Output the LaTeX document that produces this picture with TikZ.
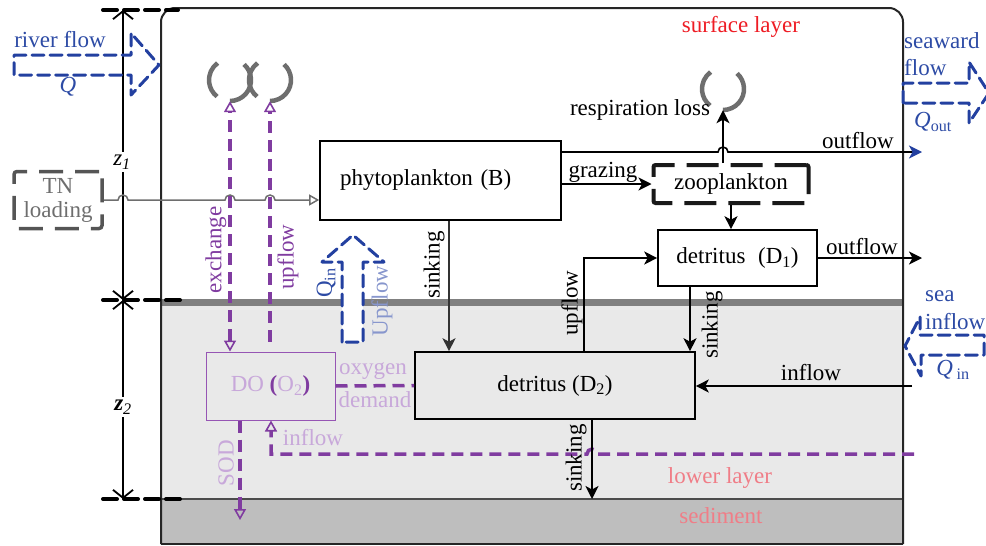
\documentclass[tikz,border=0pt]{standalone}
\usepackage{fontspec}
\setmainfont{Liberation Serif}
\usetikzlibrary{arrows.meta}

\definecolor{flowblue}{RGB}{35,64,160}
\definecolor{textblue}{RGB}{45,75,165}
\definecolor{paleblue}{RGB}{135,150,205}
\definecolor{oxpurple}{RGB}{128,60,160}
\definecolor{palepurple}{RGB}{200,168,218}
\definecolor{boxpurple}{RGB}{150,85,180}
\definecolor{surfred}{RGB}{238,28,36}
\definecolor{palered}{RGB}{240,125,135}
\definecolor{swirlgray}{RGB}{110,110,110}
\definecolor{tngray}{RGB}{85,85,85}
\definecolor{lowfill}{RGB}{233,233,233}
\definecolor{sedfill}{RGB}{190,190,190}
\definecolor{bandgray}{RGB}{128,128,128}

\tikzset{
  oxhead/.tip={Triangle[open,length=11pt,width=12pt,line width=1.6pt]},
  blkhead/.tip={Stealth[length=13pt,width=13pt,inset=3.5pt]},
}

\begin{document}
\begin{tikzpicture}[x=1pt,y=-1pt,
  every node/.style={font=\fontsize{23}{26}\selectfont, inner sep=0pt},
  proc/.style={draw=black, line width=1.6pt, inner sep=0pt},
  flow/.style={line width=1.6pt, -blkhead},
  oxdash/.style={draw=oxpurple, line width=3.5pt, dash pattern=on 12pt off 7pt},
  blockarrow/.style={draw=flowblue, line width=3pt, dash pattern=on 12pt off 6pt, line cap=round, line join=round},
  swirl/.style={draw=swirlgray, line width=4.5pt},
  swirlpt/.style={circle, minimum size=42pt, inner sep=0pt},
  dimline/.style={line width=1.8pt, {Straight Barb[length=8pt,width=20pt]}-{Straight Barb[length=8pt,width=20pt]}},
  extline/.style={line width=4pt, dash pattern=on 14pt off 7pt, line cap=round},
]
\useasboundingbox (0,0) rectangle (986,546);

% layers of the water column
\fill[lowfill] (161,306) rectangle (903,499);
\fill[sedfill] (161,499) rectangle (903,544);
\fill[bandgray] (161,299) rectangle (903,306);
\draw[line width=1.2pt, black!70] (161,499) -- (903,499);
\draw[line width=2pt, black!85, rounded corners=14pt] (161,544) -- (161,8) -- (903,8) -- (903,544);
\draw[line width=2pt, black!85] (161,544) -- (903,544);

% layer depths
\draw[extline] (103,10) -- (178,10);
\draw[extline] (103,300) -- (180,300);
\draw[extline] (103,499) -- (180,499);
\coordinate (ztop) at (123,10);
\coordinate (zmid) at (123,300);
\coordinate (zbot) at (123,499);
\draw[dimline] (zmid) -- (ztop);
\draw[dimline] (zmid) -- (zbot);
\node[fill=white, inner sep=3pt] (z1) at (122,162) {\textit{z}\textsubscript{\textit{1}}};
\node[fill=white, inner sep=3pt] (z2) at (123,407) {\textbf{\textit{z}}\textsubscript{\textit{2}}};

% boundary flows
\draw[blockarrow] (14,55) -- (131,55) -- (131,33) -- (159,65) -- (131,95) -- (131,75) -- (14,75) -- cycle;
\node[text=textblue] at (60,40) {river flow};
\node[text=textblue] at (68,87) {\textit{Q}};

\draw[blockarrow] (903,103) -- (903,83) -- (969,83) -- (969,62) -- (989,93) -- (969,123) -- (969,103) -- cycle;
\node[text=textblue, align=left, anchor=west, font=\fontsize{23}{27}\selectfont] at (904,54) {seaward\\flow};
\node[text=textblue] at (933,122) {\textit{Q}\textsubscript{out}};

\draw[blockarrow] (984,355) -- (984,335) -- (920,335) -- (920,317) -- (905,346) -- (921,376) -- (921,355) -- cycle;
\node[text=textblue, align=left, anchor=west, font=\fontsize{23}{28}\selectfont] at (925,310) {sea\\inflow};
\node[text=textblue] at (953,370) {\textit{Q}\,\textsubscript{in}};

\draw[blockarrow, fill=white] (342,342) -- (342,262) -- (322,262) -- (353,235) -- (384,262) -- (363,262) -- (363,342) -- cycle;
\node[rotate=90, text=textblue] at (326,283) {Q\textsubscript{in}};
\node[rotate=90, text=paleblue] at (382,301) {Upflow};

% state variables
\node[draw=tngray, line width=3.5pt, dash pattern=on 24pt off 12pt, rounded corners=3pt,
      minimum width=88pt, minimum height=57pt, text=swirlgray, align=center,
      font=\fontsize{23}{24}\selectfont] (tn) at (58,200) {TN\\loading};
\node[proc, fill=white, minimum width=241pt, minimum height=79pt, text width=201pt,
      inner xsep=20pt, align=left] (phy) at (440.5,180.5) {phytoplankton (B)};
\node[draw=black!90, line width=4pt, dash pattern=on 32pt off 12pt, rounded corners=2pt,
      minimum width=155pt, minimum height=38pt] (zoo) at (731,184) {zooplankton};
\node[proc, fill=white, minimum width=159pt, minimum height=56pt] (d1) at (737.5,258)
      {detritus\hspace{0.55em}(D\textsubscript{1})};
\node[proc, minimum width=280pt, minimum height=67pt] (d2) at (555,385.5) {detritus (D\textsubscript{2})};
\node[draw=boxpurple, line width=1pt, minimum width=129pt, minimum height=68pt, text=palepurple] (do)
      at (270.5,386) {DO \textcolor{oxpurple}{\textbf{(}}O\textsubscript{2}\textcolor{oxpurple}{\textbf{)}}};

% loss swirls
\node[swirlpt] (sw1) at (230,80) {};
\node[swirlpt] (sw2) at (270,80) {};
\node[swirlpt] (sw3) at (723,89) {};
\foreach \s in {sw1,sw2,sw3}{
  \draw[swirl] (\s.center) ++(-126:21) arc[start angle=-126, end angle=-232, radius=21];
  \draw[swirl] (\s.center) ++(-48:21) arc[start angle=-48, end angle=90, radius=21];
}

% free ends of connectors
\coordinate (out1) at (922,152);
\coordinate (out2) at (922,258);
\coordinate (in2) at (912,386);
\coordinate (oxin) at (914,454);
\coordinate (sed) at (592,499);
\coordinate (sodend) at (240,520);

% nutrient loading
\draw[draw=swirlgray, line width=1.5pt, -{Triangle[open,length=10pt,width=11pt]}]
  (tn.east) -- (118,200) arc[start angle=180, end angle=360, radius=5]
  -- (225,200) arc[start angle=180, end angle=360, radius=5]
  -- (265,200) arc[start angle=180, end angle=360, radius=5]
  -- (phy.west |- tn.east);

% oxygen pathways
\draw[oxdash, oxhead-oxhead] (do.north -| sw1.south) -- (sw1.south);
\draw[oxdash, -oxhead, shorten <=10pt] (do.north -| sw2.south) -- (sw2.south);
\draw[oxdash, -oxhead] (do.south -| sodend) -- (sodend);
\draw[oxdash] (do.east) -- (d2.west);
\draw[oxdash, -oxhead] (oxin) -- (597,454) arc[start angle=0, end angle=-180, radius=5]
  -- (271,454) -- (do.south -| 271,0);

% carbon pathways
\draw[line width=1.6pt, -{Stealth[length=13pt,width=13pt,inset=3.5pt,color=flowblue]}]
  (phy.east |- out1) -- (718,152) arc[start angle=180, end angle=360, radius=5] -- (out1);
\draw[flow] (zoo.north -| sw3.south) -- (sw3.south);
\draw[flow] (phy.east |- zoo.west) -- (zoo.west);
\draw[flow] (zoo.south) -- (zoo.south |- d1.north);
\draw[flow] (d1.east) -- (out2);
\draw[flow] (d2.north -| 584,0) |- (d1.west);
\draw[flow] (d1.south -| 690,0) -- (d2.north -| 690,0);
\draw[flow, draw=black!80] (phy.south -| 449,0) -- (d2.north -| 449,0);
\draw[flow] (d2.south -| sed) -- (sed);
\draw[flow] (in2) -- (d2.east |- in2);

% labels
\node[text=surfred] at (741,27) {surface layer};
\node[text=palered] at (720,478) {lower layer};
\node[text=palered] at (721,516) {sediment};
\node at (640,110) {respiration loss};
\node at (858,141) {outflow};
\node at (862,247) {outflow};
\node at (603,172) {grazing};
\node at (811,373) {inflow};
\node[rotate=90] at (434,265) {sinking};
\node[rotate=90] at (572,303) {upflow};
\node[rotate=90] at (712,325) {sinking};
\node[rotate=90] at (576,458) {sinking};
\node[rotate=90, text=oxpurple] at (216,250) {exchange};
\node[rotate=90, text=oxpurple] at (288,257) {upflow};
\node[rotate=90, text=palepurple] at (226,463) {SOD};
\node[text=palepurple] at (373,371) {oxygen};
\node[text=palepurple] at (375,400) {demand};
\node[text=palepurple] at (313,438) {inflow};
\end{tikzpicture}
\end{document}
